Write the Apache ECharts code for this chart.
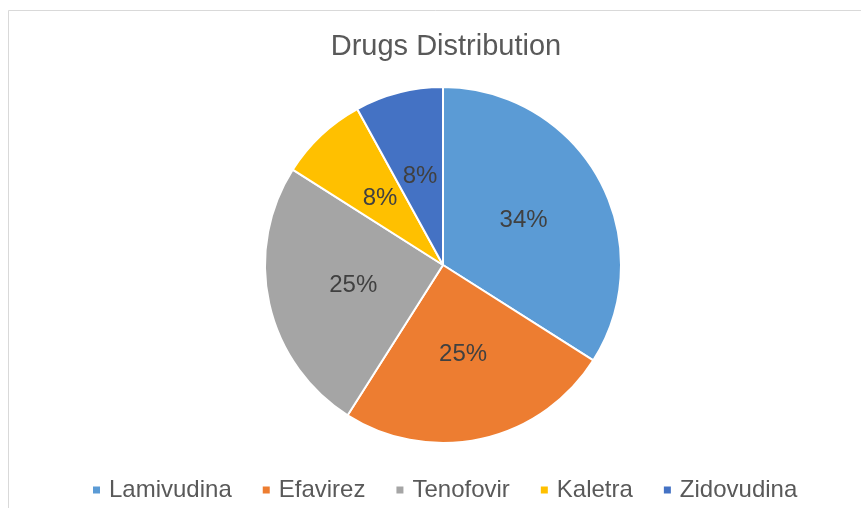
<!DOCTYPE html>
<html>
<head>
<meta charset="utf-8">
<script src="https://cdn.jsdelivr.net/npm/echarts@6/dist/echarts.min.js"></script>
<style>
  html, body { margin: 0; padding: 0; background: #fff; }
  #chart { width: 861px; height: 508px; }
</style>
</head>
<body>
<div id="chart"></div>
<script>
const drugs = ["Lamivudina", "Efavirez", "Tenofovir", "Kaletra", "Zidovudina"];
const shares = [34, 25, 25, 8, 8];
const colors = ["#5B9BD5", "#ED7D31", "#A5A5A5", "#FFC000", "#4472C4"];

const chart = echarts.init(document.querySelector("#chart"));

chart.setOption({
  backgroundColor: "#ffffff",
  animation: false,
  color: colors,
  title: {
    text: "Drugs Distribution",
    left: 441,
    top: 27,
    textAlign: "center",
    textStyle: {
      color: "#595959",
      fontFamily: "Liberation Sans",
      fontSize: 29,
      fontWeight: "normal"
    }
  },
  graphic: [
    {
      type: "rect",
      shape: { x: 8.5, y: 10.5, width: 900, height: 600 },
      style: { fill: "none", stroke: "#d9d9d9", lineWidth: 1 },
      silent: true
    }
  ],
  legend: {
    left: 86,
    top: 473,
    icon: "rect",
    itemWidth: 9,
    itemHeight: 9,
    itemGap: 29,
    textStyle: {
      color: "#595959",
      fontFamily: "Liberation Sans",
      fontSize: 24,
      padding: [0, 0, 0, 3]
    },
    data: drugs
  },
  series: [
    {
      type: "pie",
      center: [443, 265],
      radius: 178,
      startAngle: 90,
      clockwise: true,
      data: drugs.map((name, i) => ({ name, value: shares[i] })),
      itemStyle: {
        borderColor: "#ffffff",
        borderWidth: 2
      },
      label: {
        show: true,
        position: "inside",
        formatter: (p) => Math.round(p.percent) + "%",
        color: "#404040",
        fontFamily: "Liberation Sans",
        fontSize: 24
      },
      labelLine: { show: false },
      emphasis: { disabled: true }
    }
  ]
});
</script>
</body>
</html>
